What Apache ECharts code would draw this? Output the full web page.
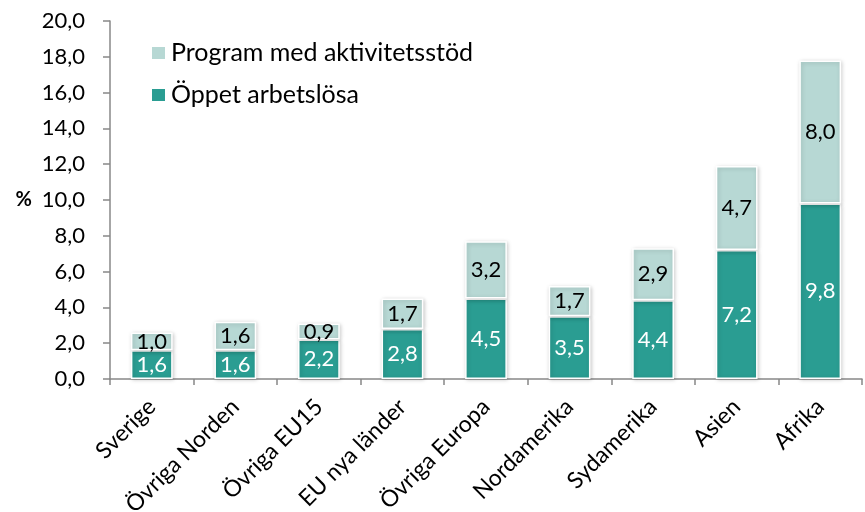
<!DOCTYPE html>
<html>
<head>
<meta charset="utf-8">
<script src="https://cdn.jsdelivr.net/npm/echarts@6/dist/echarts.min.js"></script>
<style>
html, body { margin: 0; padding: 0; background: #fff; }
#chart { width: 865px; height: 512px; }
</style>
</head>
<body>
<div id="chart"></div>
<script>
var categories = ['Sverige', 'Övriga Norden', 'Övriga EU15', 'EU nya länder', 'Övriga Europa', 'Nordamerika', 'Sydamerika', 'Asien', 'Afrika'];
var oppet = [1.6, 1.6, 2.2, 2.8, 4.5, 3.5, 4.4, 7.2, 9.8];
var program = [1.0, 1.6, 0.9, 1.7, 3.2, 1.7, 2.9, 4.7, 8.0];
var yTicks = [0, 2, 4, 6, 8, 10, 12, 14, 16, 18, 20];

function fmt(v) {
    return v.toFixed(1).replace('.', ',');
}

var FONT = 'Lato';
var myChart = echarts.init(document.getElementById('chart'));

var option = {
    animation: false,
    textStyle: { fontFamily: FONT },
    legend: {
        orient: 'vertical',
        left: 150,
        top: 40,
        padding: 0,
        itemGap: 16,
        itemWidth: 15,
        itemHeight: 14,
        icon: 'rect',
        textStyle: { fontSize: 25, color: '#000', fontFamily: FONT, lineHeight: 26 },
        data: ['Program med aktivitetsstöd', 'Öppet arbetslösa']
    },
    grid: { left: 110, right: 3, top: 21, bottom: 133, containLabel: false, outerBoundsMode: 'none' },
    xAxis: {
        type: 'category',
        data: categories,
        axisLine: { lineStyle: { color: '#888', width: 1.5 } },
        axisTick: { show: true, length: 6, lineStyle: { color: '#888', width: 1.5 } },
        axisLabel: {
            rotate: 45,
            interval: 0,
            fontSize: 23,
            color: '#000',
            margin: 24
        }
    },
    yAxis: {
        type: 'value',
        min: yTicks[0],
        max: yTicks[yTicks.length - 1],
        interval: 2,
        name: '%',
        nameLocation: 'middle',
        nameRotate: 0,
        nameGap: 78,
        nameTextStyle: { fontSize: 20, fontWeight: 'bold', color: '#000' },
        splitLine: { show: false },
        axisLine: { show: true, lineStyle: { color: '#888', width: 1.5 } },
        axisTick: { show: true, length: 7, lineStyle: { color: '#888', width: 1.5 } },
        axisLabel: {
            fontSize: 22,
            color: '#000',
            margin: 25,
            formatter: function (v) { return fmt(v); }
        }
    },
    series: [
        {
            name: 'Öppet arbetslösa',
            type: 'bar',
            stack: 'tot',
            barWidth: '50%',
            data: oppet,
            itemStyle: {
                color: '#2a9d92',
                borderColor: '#fff',
                borderWidth: 1.5,
                shadowBlur: 4,
                shadowColor: 'rgba(0,0,0,0.2)',
                shadowOffsetX: 1,
                shadowOffsetY: 1
            },
            label: {
                show: true,
                position: 'inside',
                color: '#fff',
                fontSize: 22,
                formatter: function (p) { return fmt(p.value); }
            }
        },
        {
            name: 'Program med aktivitetsstöd',
            type: 'bar',
            stack: 'tot',
            barWidth: '50%',
            data: program,
            itemStyle: {
                color: '#b7d8d4',
                borderColor: '#fff',
                borderWidth: 1.5,
                shadowBlur: 4,
                shadowColor: 'rgba(0,0,0,0.2)',
                shadowOffsetX: 1,
                shadowOffsetY: 1
            },
            label: {
                show: true,
                position: 'inside',
                color: '#000',
                fontSize: 22,
                formatter: function (p) { return fmt(p.value); }
            }
        }
    ]
};
myChart.setOption(option);
</script>
</body>
</html>
